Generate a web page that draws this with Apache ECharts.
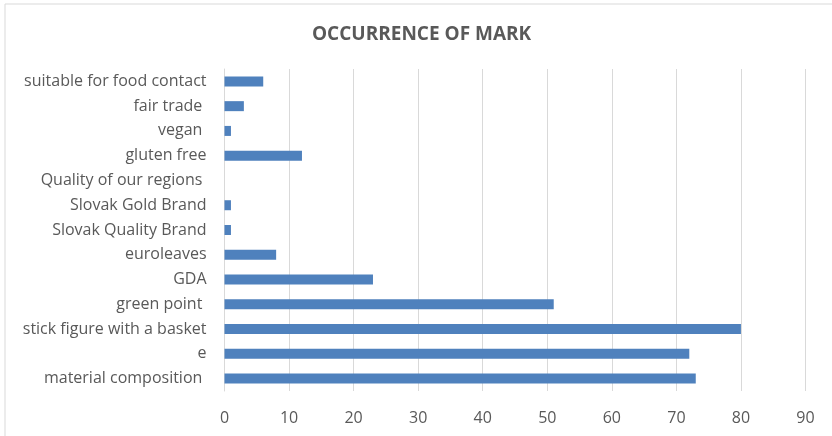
<!DOCTYPE html>
<html>
<head>
<meta charset="utf-8">
<style>
  html, body { margin: 0; padding: 0; background: #fff; }
  #chart { width: 832px; height: 436px; }
</style>
<script src="https://cdn.jsdelivr.net/npm/echarts@6/dist/echarts.min.js"></script>
</head>
<body>
<div id="chart"></div>
<script>
// categories listed bottom to top
var categories = [
  'material composition ',
  'e',
  'stick figure with a basket',
  'green point ',
  'GDA',
  'euroleaves',
  'Slovak Quality Brand',
  'Slovak Gold Brand',
  'Quality of our regions ',
  'gluten free',
  'vegan ',
  'fair trade ',
  'suitable for food contact'
];
var occurrences = [73, 72, 80, 51, 23, 8, 1, 1, 0, 12, 1, 3, 6];

var textColor = '#595959';
var gridColor = '#d9d9d9';

var chart = echarts.init(document.getElementById('chart'));
chart.setOption({
  animation: false,
  backgroundColor: '#fff',
  title: {
    text: 'OCCURRENCE OF MARK',
    left: 307,
    top: 20,
    textStyle: {
      fontFamily: 'Open Sans',
      fontWeight: 'bold',
      fontSize: 19,
      color: textColor
    }
  },
  graphic: [{
    type: 'rect',
    shape: { x: 5, y: 4, width: 840, height: 450 },
    style: { fill: 'none', stroke: gridColor, lineWidth: 1 },
    silent: true
  }],
  grid: {
    left: 224.5,
    right: 26.5,
    top: 69,
    bottom: 45,
    containLabel: false
  },
  xAxis: {
    type: 'value',
    min: 0,
    max: 90,
    interval: 10,
    axisLine: { show: false },
    axisTick: { show: false },
    splitLine: { lineStyle: { color: gridColor, width: 1 } },
    axisLabel: {
      color: textColor,
      fontFamily: 'Open Sans',
      fontSize: 16,
      margin: 19
    }
  },
  yAxis: {
    type: 'category',
    data: categories,
    axisLine: { show: true, lineStyle: { color: gridColor } },
    axisTick: { show: false },
    axisLabel: {
      color: textColor,
      fontFamily: 'Open Sans',
      fontSize: 16,
      margin: 18
    }
  },
  series: [{
    type: 'bar',
    data: occurrences,
    barWidth: 10,
    itemStyle: { color: '#4f81bd' }
  }]
});
</script>
</body>
</html>
